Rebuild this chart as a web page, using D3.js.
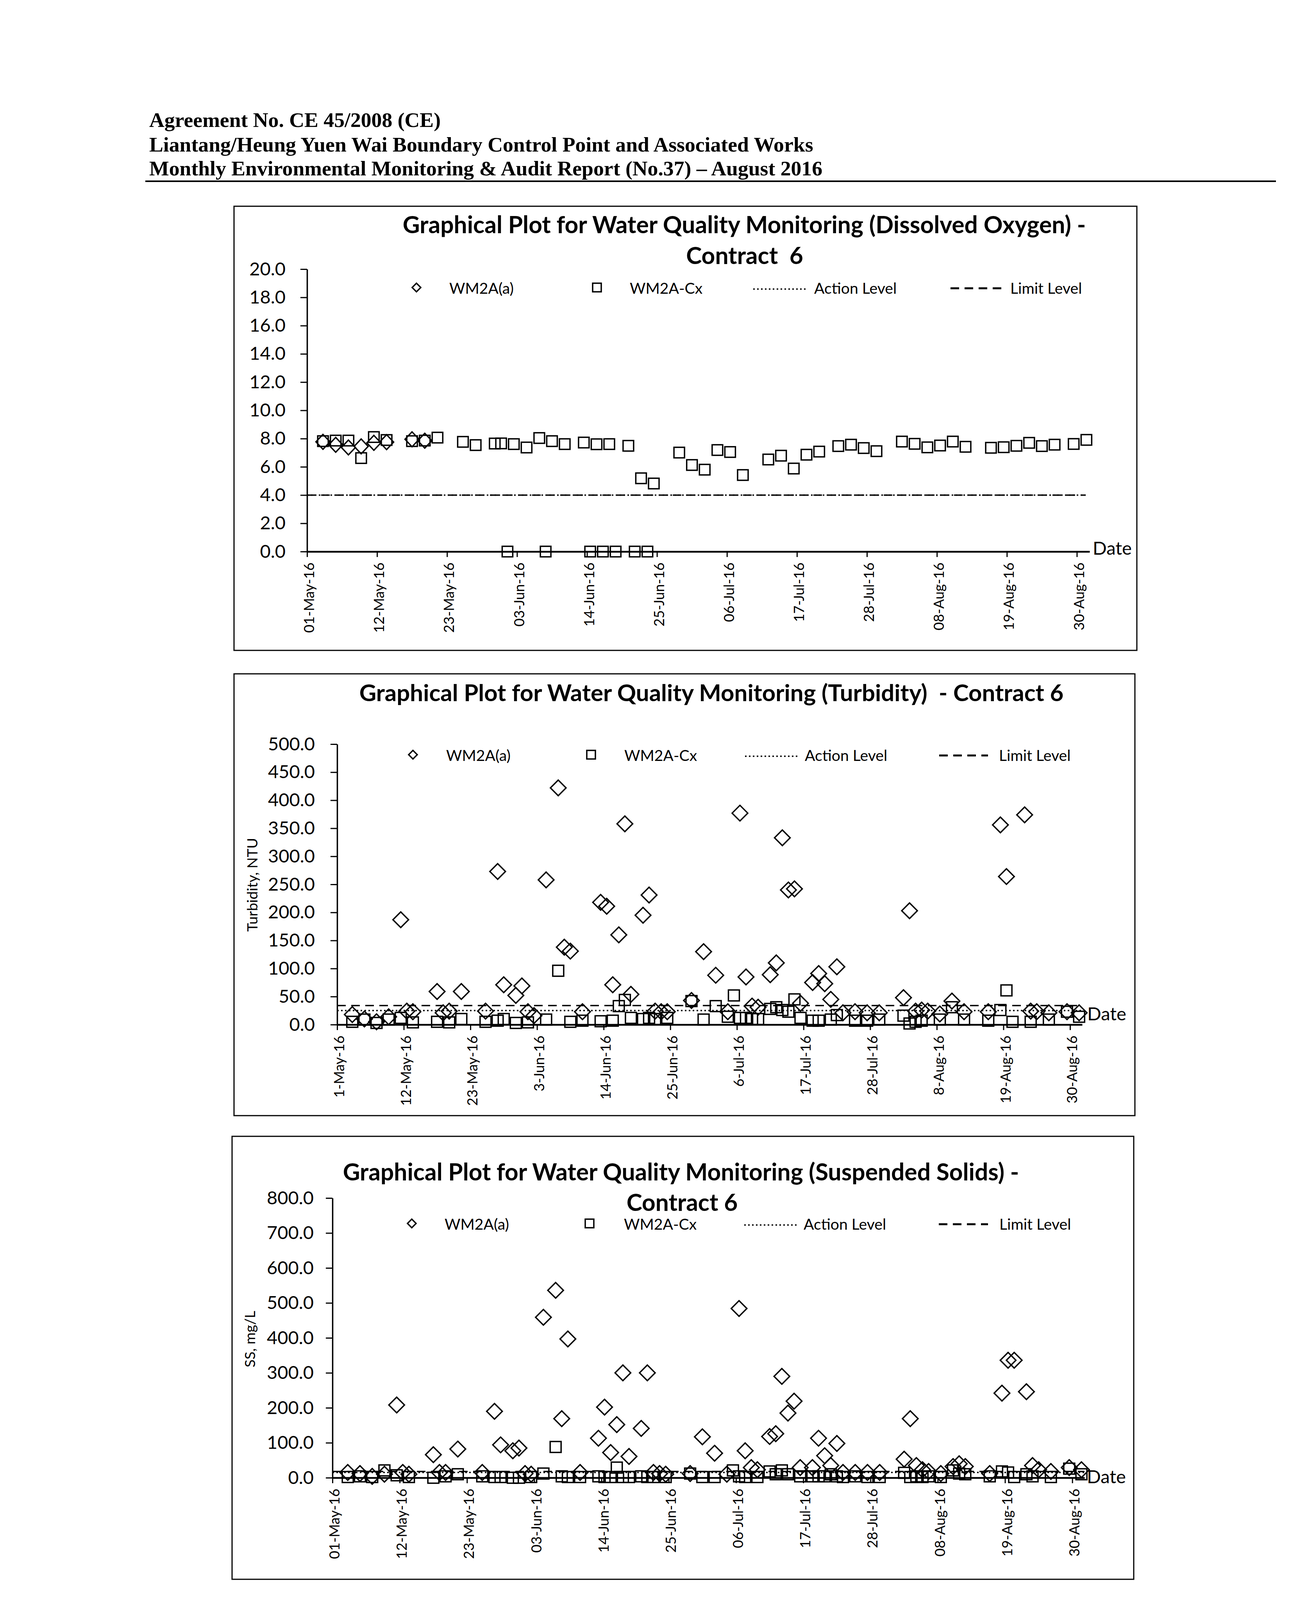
<!DOCTYPE html>
<html><head><meta charset="utf-8">
<script src="https://cdn.jsdelivr.net/npm/d3@7"></script>
<style>body{margin:0;background:#fff}svg{display:block}</style>
</head><body><script>
// ---------------- DATA ----------------
const headerLines = ["Agreement No. CE 45/2008 (CE)",
  "Liantang/Heung Yuen Wai Boundary Control Point and Associated Works",
  "Monthly Environmental Monitoring & Audit Report (No.37) \u2013 August 2016"];
const footerText = "Z:\\Jobs\\2013\\TCS00694\\600\\EM&A Report\\Monthly EM&A Report\\37th (August 2016)\\R0590v2.docx";
const seriesNames = ["WM2A(a)", "WM2A-Cx"];
const levelNames = ["Action Level", "Limit Level"];

// Dissolved Oxygen
const doDatesA = ["2016-05-03","2016-05-05","2016-05-07","2016-05-09","2016-05-11","2016-05-13","2016-05-17","2016-05-19"];
const doValsA = [7.77,7.56,7.37,7.45,7.70,7.75,7.95,7.85];
const doDatesB = ["2016-05-03","2016-05-05","2016-05-07","2016-05-09","2016-05-11","2016-05-13","2016-05-17","2016-05-19","2016-05-21","2016-05-25","2016-05-27","2016-05-30","2016-05-31",
 "2016-06-01","2016-06-02","2016-06-04","2016-06-06","2016-06-07","2016-06-08","2016-06-10","2016-06-13","2016-06-14","2016-06-15","2016-06-16","2016-06-17","2016-06-18","2016-06-20","2016-06-21","2016-06-22","2016-06-23","2016-06-24","2016-06-28","2016-06-30",
 "2016-07-02","2016-07-04","2016-07-06","2016-07-08","2016-07-12","2016-07-14","2016-07-16","2016-07-18","2016-07-20","2016-07-23","2016-07-25","2016-07-27","2016-07-29",
 "2016-08-02","2016-08-04","2016-08-06","2016-08-08","2016-08-10","2016-08-12","2016-08-16","2016-08-18","2016-08-20","2016-08-22","2016-08-24","2016-08-26","2016-08-29","2016-08-31"];
const doValsB = [7.82,7.86,7.86,6.62,8.11,7.90,7.82,7.86,8.07,7.77,7.54,7.65,7.66,
 0,7.61,7.37,8.04,0,7.82,7.61,7.72,0,7.60,0,7.61,0,7.49,0,5.19,0,4.82,7.01,6.13,
 5.80,7.19,7.05,5.42,6.52,6.79,5.88,6.86,7.08,7.47,7.57,7.33,7.11,
 7.79,7.63,7.38,7.51,7.79,7.42,7.35,7.39,7.49,7.70,7.47,7.57,7.62,7.91];
const doYTicks = [0,2,4,6,8,10,12,14,16,18,20];
const doXLabels = ["01-May-16","12-May-16","23-May-16","03-Jun-16","14-Jun-16","25-Jun-16","06-Jul-16","17-Jul-16","28-Jul-16","08-Aug-16","19-Aug-16","30-Aug-16"];
const doLevels = [4.0, 4.0];

// Turbidity
const tuDatesA = ["2016-05-03","2016-05-05","2016-05-07","2016-05-09","2016-05-11","2016-05-12","2016-05-13","2016-05-17","2016-05-18","2016-05-19","2016-05-21","2016-05-25","2016-05-27","2016-05-28","2016-05-30","2016-05-31",
 "2016-06-01","2016-06-02","2016-06-04","2016-06-06","2016-06-07","2016-06-08","2016-06-10","2016-06-13","2016-06-14","2016-06-15","2016-06-16","2016-06-17","2016-06-18","2016-06-20","2016-06-21","2016-06-22","2016-06-23","2016-06-24","2016-06-28","2016-06-30",
 "2016-07-02","2016-07-04","2016-07-06","2016-07-07","2016-07-08","2016-07-09","2016-07-11","2016-07-12","2016-07-13","2016-07-14","2016-07-15","2016-07-16","2016-07-18","2016-07-19","2016-07-20","2016-07-21","2016-07-22","2016-07-23","2016-07-25","2016-07-27","2016-07-29",
 "2016-08-02","2016-08-03","2016-08-04","2016-08-05","2016-08-06","2016-08-08","2016-08-10","2016-08-12","2016-08-16","2016-08-18","2016-08-19","2016-08-22","2016-08-23","2016-08-24","2016-08-26","2016-08-29","2016-08-31"];
const tuValsA = [18,10,5,14,187,24,23,59,21,24,59,24,273,71,52,69,
 23,16,258,422,138,131,23,218,211,71,160,358,54,195,231,24,23,23,43,130,
 88,23,377,85,33,31,89,110,333,240,242,38,75,91,73,45,103,21,23,21,21,
 48,203,24,26,24,19,42,23,23,356,264,374,24,23,21,23,21];
const tuDatesB = ["2016-05-03","2016-05-05","2016-05-07","2016-05-09","2016-05-11","2016-05-13","2016-05-17","2016-05-19","2016-05-21","2016-05-25","2016-05-27","2016-05-28","2016-05-30",
 "2016-06-01","2016-06-04","2016-06-06","2016-06-08","2016-06-10","2016-06-13","2016-06-15","2016-06-16","2016-06-17","2016-06-18","2016-06-20","2016-06-21","2016-06-22","2016-06-24","2016-06-28","2016-06-30",
 "2016-07-02","2016-07-04","2016-07-05","2016-07-06","2016-07-07","2016-07-08","2016-07-09","2016-07-11","2016-07-12","2016-07-13","2016-07-14","2016-07-15","2016-07-16","2016-07-18","2016-07-19","2016-07-21","2016-07-22","2016-07-25","2016-07-27","2016-07-29",
 "2016-08-02","2016-08-03","2016-08-04","2016-08-05","2016-08-08","2016-08-10","2016-08-12","2016-08-16","2016-08-18","2016-08-19","2016-08-20","2016-08-23","2016-08-26","2016-08-29","2016-08-31"];
const tuValsB = [5,9,3,9,12,4,5,4,10,5,7,10,3,
 4,9,96,5,7,6,7,33,44,12,10,12,10,12,42,9,
 33,14,52,12,12,10,10,28,31,26,23,45,12,7,7,9,17,7,7,9,
 16,2,5,7,9,31,9,7,26,61,5,5,9,23,14];
const tuYTicks = [0,50,100,150,200,250,300,350,400,450,500];
const tuXLabels = ["1-May-16","12-May-16","23-May-16","3-Jun-16","14-Jun-16","25-Jun-16","6-Jul-16","17-Jul-16","28-Jul-16","8-Aug-16","19-Aug-16","30-Aug-16"];
const tuLevels = [25, 34];

// Suspended Solids
const ssDatesA = tuDatesA.slice(0, 63).concat(["2016-08-11"], tuDatesA.slice(63, 67), ["2016-08-20"], tuDatesA.slice(67));
const ssValsA = [15,12,4,10,208,15,10,66,15,15,82,15,190,94,77,85,
 12,10,459,536,169,397,15,113,202,72,152,300,61,141,300,15,12,10,12,117,
 70,10,484,77,29,23,118,126,290,185,219,29,29,113,63,35,98,15,15,15,15,
 53,169,35,23,18,12,40,32,32,12,242,336,336,246,35,23,18,29,23];
const ssDatesB = ["2016-05-03","2016-05-05","2016-05-07","2016-05-09","2016-05-11","2016-05-13","2016-05-17","2016-05-19","2016-05-21","2016-05-25","2016-05-27","2016-05-28","2016-05-30","2016-05-31",
 "2016-06-02","2016-06-04","2016-06-06","2016-06-07","2016-06-08","2016-06-10","2016-06-13","2016-06-14","2016-06-15","2016-06-16","2016-06-17","2016-06-18","2016-06-20","2016-06-21","2016-06-22","2016-06-24","2016-06-28","2016-06-30",
 "2016-07-02","2016-07-05","2016-07-06","2016-07-07","2016-07-09","2016-07-11","2016-07-12","2016-07-13","2016-07-14","2016-07-16","2016-07-18","2016-07-19","2016-07-20","2016-07-21","2016-07-22","2016-07-23","2016-07-25","2016-07-27","2016-07-29",
 "2016-08-02","2016-08-03","2016-08-04","2016-08-05","2016-08-06","2016-08-08","2016-08-10","2016-08-11","2016-08-12","2016-08-16","2016-08-18","2016-08-19","2016-08-20","2016-08-22","2016-08-23","2016-08-26","2016-08-29","2016-08-31"];
const ssValsB = [2,4,2,21,7,2,0,4,10,4,2,2,0,0,
 2,12,88,4,2,2,4,2,2,29,2,2,4,2,2,2,12,2,
 2,21,4,2,2,18,10,21,10,4,4,4,4,10,4,2,4,2,2,
 14,2,4,2,4,2,21,12,10,4,18,15,2,10,4,2,26,10];
const ssYTicks = [0,100,200,300,400,500,600,700,800];
const ssXLabels = doXLabels;
const ssLevels = [15, 18];

// ---------------- DRAWING ----------------
const W = 3302, H = 4669;
const svg = d3.select("body").append("svg").attr("width", W).attr("height", H).attr("viewBox", `0 0 ${W} ${H}`);
svg.append("rect").attr("width", W).attr("height", H).attr("fill", "#fff");
const serif = "'Liberation Serif','Times New Roman',serif";
const sans = "Lato,'Open Sans','Noto Sans',sans-serif";
const parse = d3.timeParse("%Y-%m-%d");
const parseLbl = d3.timeParse("%d-%b-%y");
const xDomain = [parse("2016-05-01"), parse("2016-09-01")];

function fitFont(text, family, weight, target) {
  const t = svg.append("text").attr("font-family", family).attr("font-weight", weight)
    .attr("font-size", 100).style("white-space", "pre").text(text);
  const w = t.node().getComputedTextLength(); t.remove();
  return 100 * target / w;
}

// header
const hfs = fitFont(headerLines[1], serif, "bold", 1700);
const hBase = [325, 388, 449];
headerLines.forEach((s, i) => svg.append("text").attr("x", 382).attr("y", hBase[i])
  .attr("font-family", serif).attr("font-weight", "bold").attr("font-size", hfs).attr("fill", "#000").text(s));
svg.append("line").attr("x1", 372).attr("x2", 3266).attr("y1", 464).attr("y2", 464).attr("stroke", "#000").attr("stroke-width", 4);

// footer
svg.append("line").attr("x1", 440).attr("x2", 3080).attr("y1", 4470).attr("y2", 4470).attr("stroke", "#000").attr("stroke-width", 4);
svg.append("text").attr("x", 440).attr("y", 4522).attr("font-family", serif)
  .attr("font-size", fitFont(footerText, serif, "normal", 1827)).attr("fill", "#000").text(footerText);

const fsTick = fitFont("500.0", sans, "normal", 120);
const fsX = fitFont("12-May-16", sans, "normal", 180);
const fsLeg = fitFont("WM2A(a)", sans, "normal", 165);
const fsDate = fitFont("Date", sans, "normal", 100);
const fsYT = fitFont("Turbidity, NTU", sans, "normal", 240);

const diamondPath = (cx, cy, w, h) => `M${cx},${cy - h}L${cx + w},${cy}L${cx},${cy + h}L${cx - w},${cy}Z`;

function chart(c) {
  const g = svg.append("g");
  g.append("rect").attr("x", c.box[0]).attr("y", c.box[1]).attr("width", c.box[2] - c.box[0]).attr("height", c.box[3] - c.box[1])
    .attr("fill", "none").attr("stroke", "#000").attr("stroke-width", 3);
  const x = d3.scaleTime().domain(xDomain).range([c.x0, c.x1]);
  const y = d3.scaleLinear().domain([0, c.ymax]).range([c.y0, c.y1]);
  const px = s => x(d3.timeHour.offset(parse(s), 12));

  // level lines
  g.append("line").attr("x1", c.x0).attr("x2", c.lineEnd).attr("y1", y(c.levels[0])).attr("y2", y(c.levels[0]))
    .attr("stroke", "#000").attr("stroke-width", 3.5).attr("stroke-dasharray", "4 6");
  g.append("line").attr("x1", c.x0).attr("x2", c.lineEnd).attr("y1", y(c.levels[1])).attr("y2", y(c.levels[1]))
    .attr("stroke", "#000").attr("stroke-width", 3.5).attr("stroke-dasharray", "22 14");

  // markers
  g.append("g").selectAll("rect").data(d3.zip(c.bDates, c.bVals)).join("rect")
    .attr("x", d => px(d[0]) - c.sq / 2).attr("y", d => y(d[1]) - c.sq / 2).attr("width", c.sq).attr("height", c.sq)
    .attr("fill", "none").attr("stroke", "#000").attr("stroke-width", 3.5);
  g.append("g").selectAll("path").data(d3.zip(c.aDates, c.aVals)).join("path")
    .attr("d", d => diamondPath(px(d[0]), y(d[1]), c.dw, c.dh))
    .attr("fill", "none").attr("stroke", "#000").attr("stroke-width", 3.5);

  // y axis
  const ya = g.append("g").attr("transform", `translate(${c.x0},0)`)
    .call(d3.axisLeft(y).tickValues(c.yTicks).tickFormat(d3.format(".1f")).tickSize(17).tickPadding(c.yPad).tickSizeOuter(0));
  ya.select(".domain").attr("stroke-width", 3.5).attr("stroke", "#000");
  ya.selectAll(".tick line").attr("stroke-width", 3).attr("stroke", "#000");
  ya.selectAll(".tick text").attr("font-family", sans).attr("font-size", fsTick).attr("fill", "#000");

  // x axis
  const xa = g.append("g").attr("transform", `translate(0,${c.y0})`)
    .call(d3.axisBottom(x).tickValues(c.xLabels.map(parseLbl)).tickFormat((d, i) => c.xLabels[i]).tickSize(14).tickSizeOuter(0));
  xa.select(".domain").attr("stroke-width", 4.5).attr("stroke", "#000");
  xa.selectAll(".tick line").attr("stroke-width", 3).attr("stroke", "#000");
  xa.selectAll(".tick text").attr("transform", "rotate(-90)").attr("text-anchor", "end")
    .attr("x", -28).attr("y", 5).attr("dy", "0.35em")
    .attr("font-family", sans).attr("font-size", fsX).attr("fill", "#000");

  // Date label
  g.append("text").attr("x", c.dateX).attr("y", c.dateY).attr("font-family", sans).attr("font-size", fsDate).attr("fill", "#000").text("Date");

  // y title
  if (c.yTitle) {
    g.append("text").attr("transform", `translate(${c.yTitle[1]},${c.yTitle[2]}) rotate(-90)`)
      .attr("text-anchor", "middle").attr("dominant-baseline", "central")
      .attr("font-family", sans).attr("font-size", fsYT).attr("fill", "#000").text(c.yTitle[0]);
  }

  // title
  const tfs = fitFont(c.title[0][0], sans, "bold", c.title[0][3]);
  c.title.forEach(t => g.append("text").attr("x", t[1]).attr("y", t[2]).attr("text-anchor", "middle")
    .style("white-space", "pre").attr("font-family", sans).attr("font-weight", "bold").attr("font-size", tfs).attr("fill", "#000").text(t[0]));

  // legend
  const L = c.leg, ly = c.legY;
  g.append("path").attr("d", diamondPath(L[0], ly, 11, 11)).attr("fill", "none").attr("stroke", "#000").attr("stroke-width", 3.5);
  g.append("rect").attr("x", L[2] - 11).attr("y", ly - 11).attr("width", 22).attr("height", 22).attr("fill", "none").attr("stroke", "#000").attr("stroke-width", 3.5);
  g.append("line").attr("x1", L[4]).attr("x2", L[5]).attr("y1", ly + 4).attr("y2", ly + 4).attr("stroke", "#000").attr("stroke-width", 3.5).attr("stroke-dasharray", "4 6");
  g.append("line").attr("x1", L[7]).attr("x2", L[8]).attr("y1", ly + 2).attr("y2", ly + 2).attr("stroke", "#000").attr("stroke-width", 5).attr("stroke-dasharray", "22 14");
  [[L[1], seriesNames[0]], [L[3], seriesNames[1]], [L[6], levelNames[0]], [L[9], levelNames[1]]].forEach(p =>
    g.append("text").attr("x", p[0]).attr("y", ly).attr("dominant-baseline", "central")
      .attr("font-family", sans).attr("font-size", fsLeg).attr("fill", "#000").text(p[1]));
}

chart({
  box: [599, 528, 2910, 1665], x0: 786, x1: 2789, y0: 1412, y1: 689, ymax: 20, yTicks: doYTicks, yPad: 38,
  xLabels: doXLabels, levels: doLevels, lineEnd: 2779,
  aDates: doDatesA, aVals: doValsA, bDates: doDatesB, bVals: doValsB, dw: 18, dh: 19, sq: 27,
  dateX: 2797, dateY: 1420, yTitle: null,
  title: [["Graphical Plot for Water Quality Monitoring (Dissolved Oxygen) -", 1905, 597, 1749], ["Contract  6", 1906, 676]],
  leg: [1066, 1150, 1528, 1612, 1928, 2065, 2084, 2433, 2563, 2586], legY: 736
});
chart({
  box: [599, 1725, 2905, 2856], x0: 863, x1: 2770, y0: 2623, y1: 1905, ymax: 500, yTicks: tuYTicks, yPad: 40,
  xLabels: tuXLabels, levels: tuLevels, lineEnd: 2770,
  aDates: tuDatesA, aVals: tuValsA, bDates: tuDatesB, bVals: tuValsB, dw: 20, dh: 20, sq: 28,
  dateX: 2783, dateY: 2612, yTitle: ["Turbidity, NTU", 644, 2265],
  title: [["Graphical Plot for Water Quality Monitoring (Turbidity)  - Contract 6", 1821, 1795, 1803]],
  leg: [1057, 1142, 1513, 1598, 1907, 2043, 2060, 2404, 2529, 2557], legY: 1932
});
chart({
  box: [594, 2909, 2902, 4043], x0: 851, x1: 2776, y0: 3783, y1: 3067, ymax: 800, yTicks: ssYTicks, yPad: 31,
  xLabels: ssXLabels, levels: ssLevels, lineEnd: 2776,
  aDates: ssDatesA, aVals: ssValsA, bDates: ssDatesB, bVals: ssValsB, dw: 20, dh: 20, sq: 28,
  dateX: 2782, dateY: 3797, yTitle: ["SS, mg/L", 638, 3428],
  title: [["Graphical Plot for Water Quality Monitoring (Suspended Solids) -", 1743, 3022, 1731], ["Contract 6", 1746, 3100]],
  leg: [1054, 1138, 1509, 1597, 1905, 2041, 2057, 2403, 2529, 2558], legY: 3132
});
</script></body></html>
